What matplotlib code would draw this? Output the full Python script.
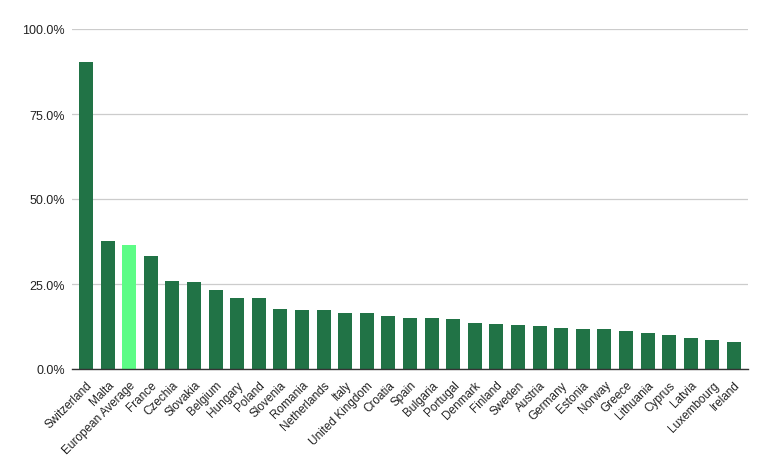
import matplotlib
matplotlib.use("Agg")
import matplotlib.pyplot as plt
from matplotlib.ticker import FuncFormatter

# Data (percent)
countries = ["Switzerland", "Malta", "European Average", "France", "Czechia",
             "Slovakia", "Belgium", "Hungary", "Poland", "Slovenia", "Romania",
             "Netherlands", "Italy", "United Kingdom", "Croatia", "Spain",
             "Bulgaria", "Portugal", "Denmark", "Finland", "Sweden", "Austria",
             "Germany", "Estonia", "Norway", "Greece", "Lithuania", "Cyprus",
             "Latvia", "Luxembourg", "Ireland"]
values = [90.2, 37.6, 36.5, 33.2, 25.9, 25.6, 23.2, 20.9, 20.9, 17.6, 17.4,
          17.4, 16.5, 16.5, 15.6, 15.0, 15.0, 14.7, 13.5, 13.2, 12.9, 12.6,
          12.1, 11.8, 11.8, 11.2, 10.6, 10.0, 9.1, 8.5, 7.9]
y_ticks = [0, 25, 50, 75, 100]

dark = "#217346"
light = "#5dfc86"
colors = [light if c == "European Average" else dark for c in countries]

plt.rcParams['font.family'] = ['Liberation Sans', 'DejaVu Sans']

fig = plt.figure(figsize=(7.72, 4.77), dpi=100)
ax = fig.add_axes([72 / 772, 107 / 477, 676 / 772, 340 / 477])

x = range(len(countries))
ax.bar(x, values, width=0.65, color=colors, zorder=3)

ax.set_ylim(0, 100)
ax.set_xlim(-0.65, len(countries) - 0.35)
ax.set_yticks(y_ticks)
ax.yaxis.set_major_formatter(FuncFormatter(lambda v, p: f"{v:.1f}%"))
ax.grid(axis="y", color="#cccccc", linewidth=0.9, zorder=0)

ax.set_xticks(list(x))
ax.set_xticklabels(countries, rotation=45, ha="right", rotation_mode="anchor",
                   fontsize=8.5, color="#222222")
ax.tick_params(axis="x", length=0, pad=7)
ax.tick_params(axis="y", length=0, pad=5, labelsize=9, labelcolor="#222222")

for side in ["top", "right", "left"]:
    ax.spines[side].set_visible(False)
ax.spines["bottom"].set_color("#333333")
ax.spines["bottom"].set_linewidth(1)
ax.spines["bottom"].set_zorder(4)

fig.savefig("out.png", dpi=100)
